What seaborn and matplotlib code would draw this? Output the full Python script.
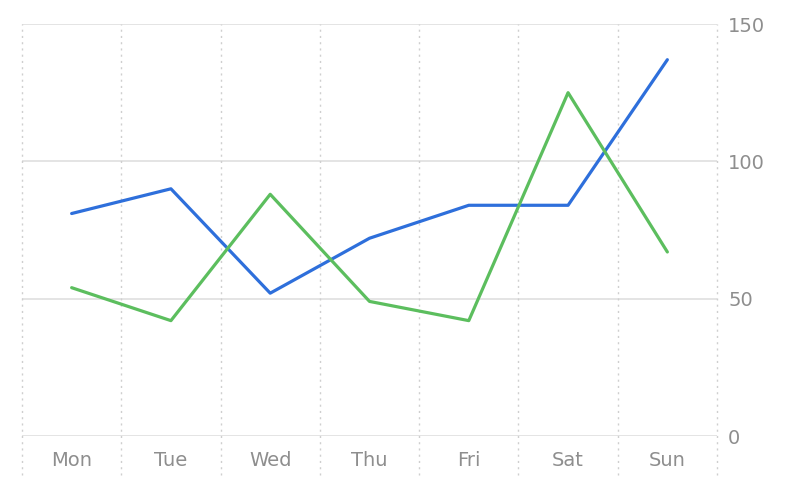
import matplotlib
matplotlib.use("Agg")
import matplotlib.pyplot as plt
import matplotlib.transforms as mtransforms
import seaborn as sns
import pandas as pd

days = ["Mon", "Tue", "Wed", "Thu", "Fri", "Sat", "Sun"]
blue_values = [81, 90, 52, 72, 84, 84, 137]
green_values = [54, 42, 88, 49, 42, 125, 67]
y_ticks = [0, 50, 100, 150]

df = pd.DataFrame({
    "day": days * 2,
    "value": blue_values + green_values,
    "series": ["A"] * len(days) + ["B"] * len(days),
})

sns.set_theme(style="white")
plt.rcParams["font.family"] = ["DejaVu Sans"]

fig = plt.figure(figsize=(7.92, 4.90), dpi=100)
ax = fig.add_axes([22 / 792, 1 - 436 / 490, (717 - 22) / 792, (436 - 24) / 490])

sns.lineplot(data=df, x="day", y="value", hue="series",
             palette={"A": "#2E6FDB", "B": "#5CBE5E"},
             linewidth=2.3, legend=False, ax=ax, sort=False)

ax.set_xlim(-0.5, len(days) - 0.5)
ax.set_ylim(0, 150)
ax.set_xlabel("")
ax.set_ylabel("")
for s in ax.spines.values():
    s.set_visible(False)

# horizontal grid
for t in y_ticks:
    ax.axhline(t, color="#dcdcdc", lw=1.1, zorder=0)

# vertical dotted boundaries extending below the axes
trans = mtransforms.blended_transform_factory(ax.transData, ax.transAxes)
for i in range(len(days) + 1):
    ax.plot([i - 0.5, i - 0.5], [-0.095, 1.0], transform=trans,
            color="#cfcfcf", lw=1.0, linestyle=(0, (1.5, 3)),
            clip_on=False, zorder=0)

ax.yaxis.tick_right()
ax.set_yticks(y_ticks)
ax.set_yticklabels([str(t) for t in y_ticks])
ax.set_xticks(range(len(days)))
ax.set_xticklabels(days)
ax.tick_params(axis="y", length=0, pad=8, labelsize=14, labelcolor="#8e8e8e")
ax.tick_params(axis="x", length=0, pad=11, labelsize=14, labelcolor="#8e8e8e")

fig.savefig("out.png", dpi=100, facecolor="white")
